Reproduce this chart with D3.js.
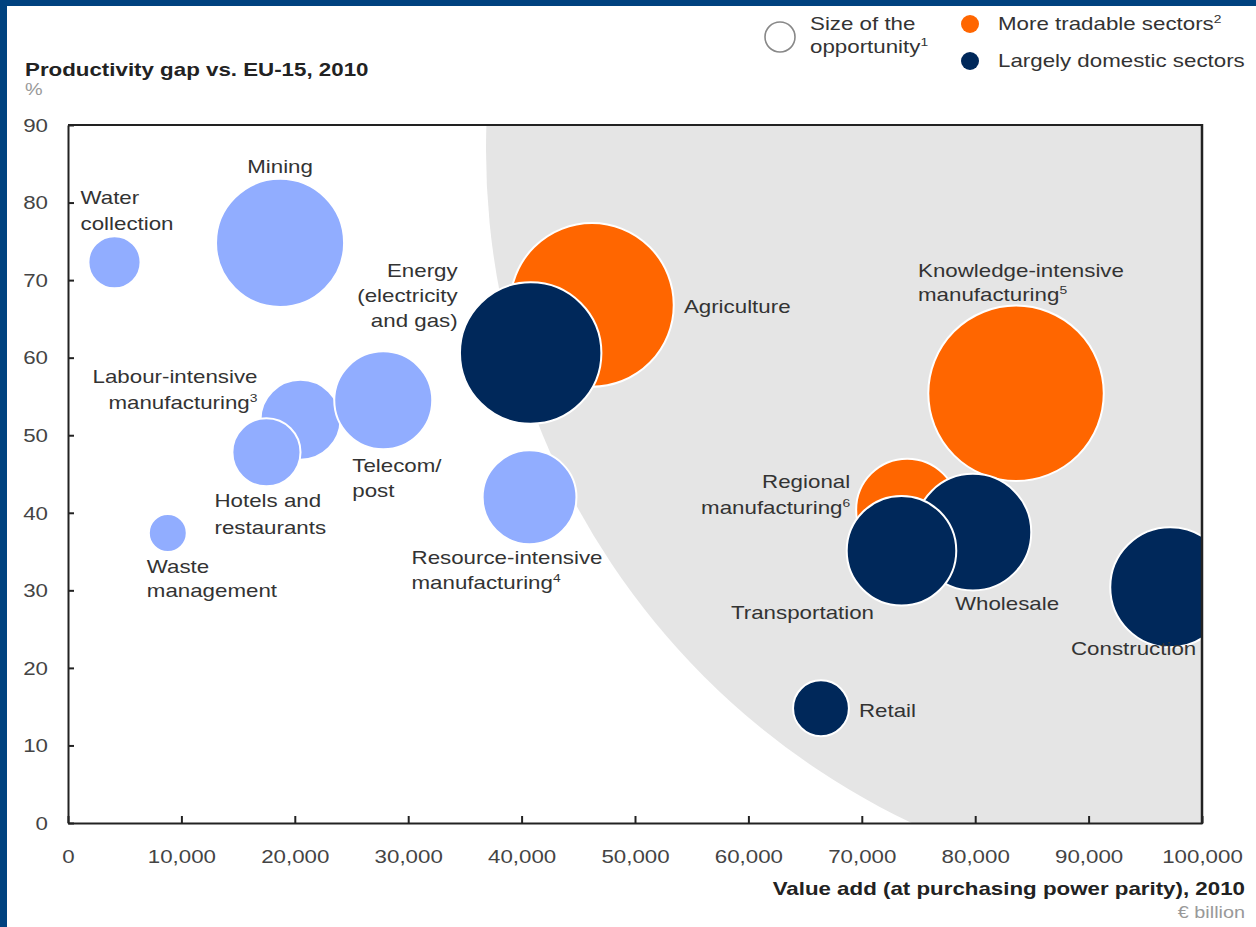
<!DOCTYPE html>
<html><head><meta charset="utf-8">
<script src="https://cdn.jsdelivr.net/npm/d3@7"></script>
<style>
html,body{margin:0;padding:0;background:#fff;}
svg{display:block;}
text{font-family:"Liberation Sans",Arial,Helvetica,sans-serif;}
</style></head><body>
<svg id="chart" width="1256" height="927"></svg>
<script>
// ---------------- DATA ----------------
const sectors = ["Water collection","Mining","Waste management","Labour-intensive manufacturing","Telecom/post","Hotels and restaurants","Resource-intensive manufacturing","Agriculture","Energy (electricity and gas)","Knowledge-intensive manufacturing","Regional manufacturing","Wholesale","Transportation","Construction","Retail"];
const valueAdd = [4100, 18700, 8800, 20500, 27800, 17500, 40700, 46200, 40800, 83600, 74000, 79800, 73500, 97200, 66400]; // € billion
const productivityGap = [72.3, 74.8, 37.4, 52.0, 54.5, 47.8, 42.0, 66.8, 60.6, 55.4, 40.4, 37.5, 35.1, 30.4, 14.8]; // %
const opportunity = [6.8, 41, 3.6, 16, 24, 11.6, 22, 67, 50, 77, 26, 34, 30, 36, 7.8]; // size of the opportunity
const sectorType = ["other","other","other","other","other","other","other","tradable","domestic","tradable","tradable","domestic","domestic","domestic","domestic"];
const labelLines = [
  ["Water","collection"],["Mining"],["Waste","management"],["Labour-intensive","manufacturing^3"],
  ["Telecom/","post"],["Hotels and","restaurants"],["Resource-intensive","manufacturing^4"],
  ["Agriculture"],["Energy","(electricity","and gas)"],["Knowledge-intensive","manufacturing^5"],
  ["Regional","manufacturing^6"],["Wholesale"],["Transportation"],["Construction"],["Retail"]
];
const xTicks = [0,10000,20000,30000,40000,50000,60000,70000,80000,90000,100000];
const yTicks = [0,10,20,30,40,50,60,70,80,90];
const legendItems = [
  {label:"More tradable sectors^2", type:"tradable"},
  {label:"Largely domestic sectors", type:"domestic"}
];
// highlighted (gray) zone, in data units
const zoneCenterX = 102560, zoneCenterY = 86.8, zoneRadiusX = 65700;

// ---------------- STYLE / LAYOUT ----------------
const colors = {tradable:"#FF6600", domestic:"#00285A", other:"#91ADFF"};
const FS = 18, SX = 1.24, TXT = "#333";
// label placement relative to bubble centre (px)
const labelLayout = {
  "Water collection":{dx:-34,dy:-65,a:"start",lh:26},
  "Mining":{dx:0,dy:-76,a:"middle",lh:25},
  "Waste management":{dx:-21,dy:34,a:"start",lh:24},
  "Labour-intensive manufacturing":{dx:-43,dy:-43,a:"end",lh:26},
  "Telecom/post":{dx:-31,dy:65,a:"start",lh:25},
  "Hotels and restaurants":{dx:-52,dy:48,a:"start",lh:27},
  "Resource-intensive manufacturing":{dx:-118,dy:60,a:"start",lh:25},
  "Agriculture":{dx:92,dy:2,a:"start",lh:25},
  "Energy (electricity and gas)":{dx:-73,dy:-82,a:"end",lh:25},
  "Knowledge-intensive manufacturing":{dx:-98,dy:-123,a:"start",lh:24},
  "Regional manufacturing":{dx:-57,dy:-28,a:"end",lh:26},
  "Wholesale":{dx:-18,dy:72,a:"start",lh:25},
  "Transportation":{dx:-99,dy:62,a:"middle",lh:25},
  "Construction":{dx:26,dy:61,a:"end",lh:25},
  "Retail":{dx:38,dy:2,a:"start",lh:25}
};

const svg = d3.select("#chart");
const x = d3.scaleLinear().domain([0,100000]).range([68,1202]);
const y = d3.scaleLinear().domain([0,90]).range([823,125]);
const r = d3.scaleSqrt().domain([0,100]).range([0,100]);

function addText(parent, px, py, str, o={}){
  const size = o.size||FS;
  const t = parent.append("text")
    .attr("transform",`translate(${px},${py+size*0.35}) scale(${SX},1)`)
    .attr("text-anchor",o.anchor||"start")
    .attr("font-size",size)
    .attr("font-weight",o.weight||"normal")
    .attr("fill",o.fill||TXT);
  const parts = str.split("^");
  t.append("tspan").text(parts[0]);
  if(parts[1]) t.append("tspan").attr("font-size",size*0.62).attr("dy",-size*0.38).text(parts[1]);
  return t;
}

// page border
svg.append("rect").attr("x",0).attr("y",0).attr("width",1256).attr("height",927).attr("fill","#fff");
svg.append("rect").attr("x",0).attr("y",0).attr("width",1256).attr("height",6).attr("fill","#00427F");
svg.append("rect").attr("x",0).attr("y",0).attr("width",7).attr("height",927).attr("fill","#00427F");

// clip
const [x0,x1] = x.range(), [y0,y1] = [y(90), y(0)];
svg.append("defs").append("clipPath").attr("id","plotclip")
  .append("rect").attr("x",x0).attr("y",y0).attr("width",x1-x0).attr("height",y1-y0);
const plot = svg.append("g").attr("clip-path","url(#plotclip)");

// gray zone
plot.append("circle")
  .attr("cx",x(zoneCenterX)).attr("cy",y(zoneCenterY))
  .attr("r",x(zoneCenterX+zoneRadiusX)-x(zoneCenterX))
  .attr("fill","#E5E5E5");

// bubbles
const data = sectors.map((s,i)=>({name:s,va:valueAdd[i],gap:productivityGap[i],opp:opportunity[i],type:sectorType[i],lines:labelLines[i]}));
plot.selectAll("circle.bub").data(data).enter().append("circle").attr("class","bub")
  .attr("cx",d=>x(d.va)).attr("cy",d=>y(d.gap)).attr("r",d=>r(d.opp))
  .attr("fill",d=>colors[d.type]).attr("stroke","#fff").attr("stroke-width",2);

// labels
const lab = svg.append("g");
data.forEach(d=>{
  const L = labelLayout[d.name];
  d.lines.forEach((ln,j)=>addText(lab, x(d.va)+L.dx, y(d.gap)+L.dy+j*L.lh, ln, {anchor:L.a}));
});

// axes
const yAxis = d3.axisLeft(y).tickValues(yTicks).tickSize(-6).tickSizeOuter(0).tickPadding(20).tickFormat(d3.format("d"));
const gy = svg.append("g").attr("transform",`translate(${x0},0)`).call(yAxis);
const xAxis = d3.axisBottom(x).tickValues(xTicks).tickSize(-7).tickSizeOuter(0).tickFormat(d3.format(","));
const gx = svg.append("g").attr("transform",`translate(0,${y1})`).call(xAxis);
[gx,gy].forEach(g=>{
  g.attr("font-size",null).attr("font-family",null);
  g.selectAll("path.domain").attr("stroke","#222").attr("stroke-width",2);
  g.selectAll(".tick line").attr("stroke","#222").attr("stroke-width",2);
  g.selectAll(".tick text").attr("fill","#444").attr("font-size",FS);
});
gy.selectAll(".tick text").attr("x",null).attr("dy",null)
  .attr("transform",`translate(-20,${FS*0.35}) scale(${SX},1)`);
gx.selectAll(".tick text").attr("y",null).attr("dy",null)
  .attr("transform",`translate(0,${34+FS*0.35}) scale(${SX},1)`);

// frame top & right
svg.append("line").attr("x1",x0).attr("x2",x1).attr("y1",y0).attr("y2",y0).attr("stroke","#222").attr("stroke-width",2);
svg.append("line").attr("x1",x1).attr("x2",x1).attr("y1",y0-1).attr("y2",y1+1).attr("stroke","#222").attr("stroke-width",2.5);

// titles
addText(svg, 25, 70, "Productivity gap vs. EU-15, 2010", {weight:"bold", fill:"#222"});
addText(svg, 25, 89, "%", {fill:"#999", size:16});
addText(svg, 1245, 889, "Value add (at purchasing power parity), 2010", {weight:"bold", anchor:"end", fill:"#222"});
addText(svg, 1245, 912, "€ billion", {fill:"#999", anchor:"end", size:16});

// legend
svg.append("circle").attr("cx",780).attr("cy",37).attr("r",15).attr("fill","#fff").attr("stroke","#888").attr("stroke-width",1.6);
addText(svg, 810, 24, "Size of the");
addText(svg, 810, 47, "opportunity^1");
legendItems.forEach((it,i)=>{
  svg.append("circle").attr("cx",970).attr("cy",24+i*37).attr("r",9).attr("fill",colors[it.type]);
  addText(svg, 998, 24+i*37, it.label);
});
</script>
</body></html>
